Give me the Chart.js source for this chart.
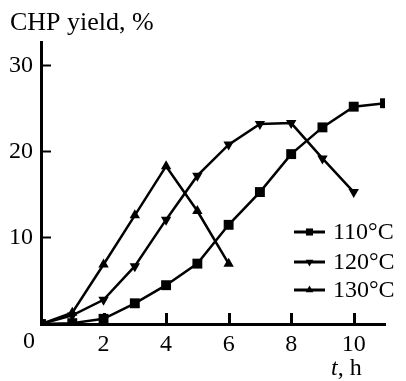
<!DOCTYPE html>
<html>
<head>
<meta charset="utf-8">
<script src="https://cdn.jsdelivr.net/npm/chart.js@4"></script>
<style>
  html, body { margin: 0; padding: 0; background: #fff; }
  #wrap { width: 406px; height: 381px; }
</style>
</head>
<body>
<div id="wrap"><canvas id="myChart" width="406" height="381"></canvas></div>
<script>
// data
const hours = [0, 1, 2, 3, 4, 5, 6, 7, 8, 9, 10, 11];
const yield110 = [0, 0.1, 0.6, 2.4, 4.5, 7.0, 11.5, 15.3, 19.7, 22.8, 25.2, 25.6];
const yield120 = [0, 1.0, 2.8, 6.7, 12.1, 17.2, 20.8, 23.2, 23.3, 19.2, 15.3];
const yield130 = [0, 1.3, 6.9, 12.6, 18.3, 13.1, 7.0];
const seriesNames = ['110°C', '120°C', '130°C'];
const xTicks = [2, 4, 6, 8, 10];
const yTicks = [10, 20, 30];

const FONT = '"Liberation Serif", "Times New Roman", serif';

function pts(vals) {
    return vals.map((v, i) => ({ x: hours[i], y: v }));
}

const styles = [
    { pointStyle: 'rect', pointRadius: 7, rotation: 0, legendRadius: 5 },
    { pointStyle: 'triangle', pointRadius: 6, rotation: 180, legendRadius: 4.5 },
    { pointStyle: 'triangle', pointRadius: 6, rotation: 0, legendRadius: 4.5 }
];

const data = {
    datasets: [yield110, yield120, yield130].map((vals, i) => ({
        label: seriesNames[i],
        data: pts(vals),
        borderColor: '#000',
        backgroundColor: '#000',
        borderWidth: 2.5,
        pointStyle: styles[i].pointStyle,
        pointRadius: styles[i].pointRadius,
        pointRotation: styles[i].rotation,
        pointBorderWidth: 0,
        tension: 0
    }))
};

// title, axis label, the lone "0", x tick marks and the legend
const textPlugin = {
    id: 'texts',
    afterDraw(chart) {
        const ctx = chart.ctx;
        const xs = chart.scales.x;
        const bottom = chart.chartArea.bottom;
        ctx.save();
        ctx.fillStyle = '#000';
        ctx.strokeStyle = '#000';

        // inward x tick marks
        xTicks.forEach(v => {
            const px = Math.round(xs.getPixelForValue(v));
            ctx.fillRect(px - 1, bottom - 11, 3, 11);
        });

        ctx.font = '26px ' + FONT;
        ctx.textBaseline = 'alphabetic';
        ctx.fillText('CHP yield, %', 10, 30);

        ctx.font = '24px ' + FONT;
        ctx.textAlign = 'center';
        ctx.textBaseline = 'middle';
        ctx.fillText('0', 29, 342);

        // "t, h"
        ctx.textAlign = 'left';
        ctx.textBaseline = 'alphabetic';
        ctx.font = 'italic 24px ' + FONT;
        ctx.fillText('t', 331, 375);
        const tw = ctx.measureText('t').width;
        ctx.font = '24px ' + FONT;
        ctx.fillText(', h', 331 + tw, 375);

        // legend
        const ys = [232, 262, 290];
        chart.data.datasets.forEach((ds, i) => {
            const y = ys[i];
            ctx.lineWidth = 3;
            ctx.beginPath();
            ctx.moveTo(294, y);
            ctx.lineTo(325, y);
            ctx.stroke();
            Chart.helpers.drawPoint(ctx, {
                pointStyle: ds.pointStyle,
                rotation: ds.pointRotation,
                radius: styles[i].legendRadius,
                borderWidth: 0
            }, 309.5, y);
            ctx.textBaseline = 'middle';
            ctx.fillText(ds.label, 333, y + 1);
        });
        ctx.restore();
    }
};

const config = {
    type: 'line',
    data,
    options: {
        responsive: false,
        animation: false,
        layout: { padding: { top: 42, right: 21, left: 0, bottom: 0 } },
        plugins: {
            legend: { display: false },
            tooltip: { enabled: false }
        },
        scales: {
            x: {
                type: 'linear',
                min: 0,
                max: 11,
                afterFit(scale) { scale.height = 57; },
                afterBuildTicks(scale) { scale.ticks = xTicks.map(v => ({ value: v })); },
                border: { display: true, color: '#000', width: 3 },
                grid: { drawOnChartArea: false, drawTicks: false },
                ticks: { color: '#000', font: { family: FONT, size: 24 }, padding: 6, maxRotation: 0 }
            },
            y: {
                min: 0,
                max: 32.7,
                afterFit(scale) { scale.width = 41; },
                afterBuildTicks(scale) { scale.ticks = yTicks.map(v => ({ value: v })); },
                border: { display: true, color: '#000', width: 3 },
                grid: { drawOnChartArea: false, color: '#000', tickLength: -10, tickWidth: 2 },
                ticks: { color: '#000', font: { family: FONT, size: 24 }, padding: 18 }
            }
        }
    },
    plugins: [textPlugin]
};

const myChart = new Chart(document.getElementById('myChart'), config);
</script>
</body>
</html>
